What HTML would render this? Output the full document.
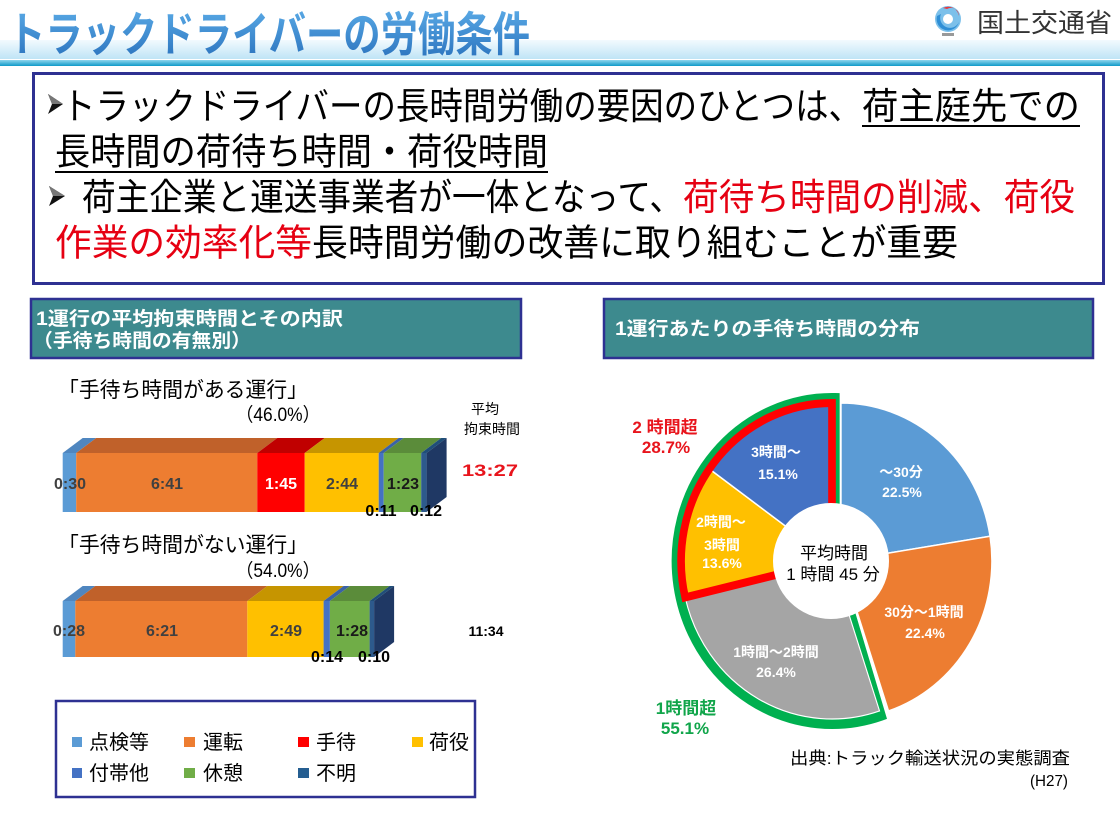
<!DOCTYPE html>
<html><head><meta charset="utf-8"><style>
html,body{margin:0;padding:0;background:#fff;}
svg{display:block;}
text{font-family:"Liberation Sans","Noto Sans CJK JP",sans-serif;}
</style></head><body>
<svg width="1120" height="840" viewBox="0 0 1120 840" xmlns="http://www.w3.org/2000/svg">
<defs>
<linearGradient id="band" x1="0" y1="0" x2="0" y2="1">
<stop offset="0" stop-color="#f2fafe"/><stop offset="1" stop-color="#bfe4f6"/></linearGradient>
<linearGradient id="stripe" x1="0" y1="0" x2="0" y2="1">
<stop offset="0" stop-color="#8fd6ee"/><stop offset="1" stop-color="#0f9ac8"/></linearGradient>
<linearGradient id="ttl" x1="0" y1="0" x2="0" y2="1">
<stop offset="0" stop-color="#5aaae6"/><stop offset="1" stop-color="#2a72bd"/></linearGradient>
</defs>
<rect width="1120" height="840" fill="#fff"/>
<!-- header band -->
<rect x="0" y="40" width="1120" height="19" fill="url(#band)"/>
<rect x="0" y="60" width="1120" height="6" fill="url(#stripe)"/>
<text x="8" y="51" font-size="47" font-weight="bold" fill="url(#ttl)" textLength="522" lengthAdjust="spacingAndGlyphs">トラックドライバーの労働条件</text>
<!-- logo -->
<g>
<circle cx="948" cy="19" r="13" fill="#7cc0ea"/>
<path d="M937,16 A11,11 0 0 0 959,22 A8,8 0 0 1 941,14 Z" fill="#2f8fd6"/>
<path d="M943,8 A11,11 0 0 1 959,16 A8,8 0 0 0 947,9 Z" fill="#e8383d"/>
<circle cx="948" cy="19" r="5" fill="#fff"/>
<rect x="942" y="33" width="12" height="3" fill="#999"/>
</g>
<text x="977" y="32" font-size="26" fill="#333" textLength="135" lengthAdjust="spacingAndGlyphs">国土交通省</text>

<!-- main box -->
<rect x="33.5" y="73.5" width="1070" height="210" fill="#fff" stroke="#2e3192" stroke-width="3"/>
<path d="M48,94 L63,104 L48,114 L52,104 Z" fill="#111"/>
<path d="M48,94 L63,104 L52,104 Z" fill="#777"/>
<text x="62" y="119" font-size="37" fill="#000" textLength="800" lengthAdjust="spacingAndGlyphs">トラックドライバーの長時間労働の要因のひとつは、</text>
<text x="862" y="119" font-size="37" fill="#000" textLength="218" lengthAdjust="spacingAndGlyphs">荷主庭先での</text>
<rect x="862" y="125" width="218" height="2" fill="#000"/>
<text x="55" y="164.5" font-size="37" fill="#000" textLength="493" lengthAdjust="spacingAndGlyphs">長時間の荷待ち時間・荷役時間</text>
<rect x="55" y="171" width="493" height="2" fill="#000"/>
<path d="M49,186 L65,196 L49,206 L53,196 Z" fill="#111"/>
<path d="M49,186 L65,196 L53,196 Z" fill="#777"/>
<text x="82" y="210" font-size="37" fill="#000" textLength="601" lengthAdjust="spacingAndGlyphs">荷主企業と運送事業者が一体となって、</text>
<text x="683" y="210" font-size="37" fill="#e60012" textLength="392" lengthAdjust="spacingAndGlyphs">荷待ち時間の削減、荷役</text>
<text x="55" y="255.5" font-size="37" fill="#e60012" textLength="257" lengthAdjust="spacingAndGlyphs">作業の効率化等</text>
<text x="312" y="255.5" font-size="37" fill="#000" textLength="646" lengthAdjust="spacingAndGlyphs">長時間労働の改善に取り組むことが重要</text>

<!-- section headers -->
<rect x="31" y="299" width="490" height="59" fill="#3d8a8e" stroke="#2e3192" stroke-width="2.5"/>
<text x="36" y="325" font-size="19" font-weight="bold" fill="#fff" textLength="307" lengthAdjust="spacingAndGlyphs">1運行の平均拘束時間とその内訳</text>
<text x="33" y="347" font-size="19" font-weight="bold" fill="#fff" textLength="218" lengthAdjust="spacingAndGlyphs">（手待ち時間の有無別）</text>
<rect x="604" y="299" width="489" height="59" fill="#3d8a8e" stroke="#2e3192" stroke-width="2.5"/>
<text x="615" y="335" font-size="19" font-weight="bold" fill="#fff" textLength="305" lengthAdjust="spacingAndGlyphs">1運行あたりの手待ち時間の分布</text>

<!-- bar chart titles -->
<text x="58" y="397" font-size="21" fill="#000" textLength="250" lengthAdjust="spacingAndGlyphs">「手待ち時間がある運行」</text>
<text x="236" y="421" font-size="19" fill="#000" textLength="84" lengthAdjust="spacingAndGlyphs">（46.0%）</text>
<text x="485" y="414" font-size="14" fill="#000" text-anchor="middle">平均</text>
<text x="492" y="434" font-size="14" fill="#000" text-anchor="middle">拘束時間</text>
<text x="462" y="476" font-size="17" font-weight="bold" fill="#e8141c" textLength="56" lengthAdjust="spacingAndGlyphs">13:27</text>

<!-- bar 1 -->
<g>
<rect x="62.7" y="453" width="13.5" height="59" fill="#5b9bd5"/>
<polygon points="62.7,453 76.2,453 96.2,438 82.7,438" fill="#4f86bf"/>
<rect x="76.2" y="453" width="181.1" height="59" fill="#ed7d31"/>
<polygon points="76.2,453 257.3,453 277.3,438 96.2,438" fill="#c0612a"/>
<rect x="257.3" y="453" width="47.4" height="59" fill="#ff0000"/>
<polygon points="257.3,453 304.7,453 324.7,438 277.3,438" fill="#c00000"/>
<rect x="304.7" y="453" width="74" height="59" fill="#ffc000"/>
<polygon points="304.7,453 378.7,453 398.7,438 324.7,438" fill="#c69500"/>
<rect x="378.7" y="453" width="5" height="59" fill="#4472c4"/>
<polygon points="378.7,453 383.7,453 403.7,438 398.7,438" fill="#3a62a8"/>
<rect x="383.7" y="453" width="37.5" height="59" fill="#70ad47"/>
<polygon points="383.7,453 421.2,453 441.2,438 403.7,438" fill="#5b8c3a"/>
<rect x="421.2" y="453" width="5.4" height="59" fill="#2d5a8c"/>
<polygon points="421.2,453 426.6,453 446.6,438 441.2,438" fill="#1f4e79"/>
<polygon points="426.6,453 446.6,438 446.6,497 426.6,512" fill="#1f3864"/>
</g>
<g font-size="16" font-weight="bold" text-anchor="middle">
<text x="70" y="489" fill="#404040">0:30</text>
<text x="167" y="489" fill="#404040">6:41</text>
<text x="281" y="489" fill="#fff">1:45</text>
<text x="342" y="489" fill="#404040">2:44</text>
<text x="403" y="489" fill="#1a1a1a">1:23</text>
<text x="381" y="516" fill="#000">0:11</text>
<text x="426" y="516" fill="#000">0:12</text>
</g>

<text x="58" y="552" font-size="21" fill="#000" textLength="250" lengthAdjust="spacingAndGlyphs">「手待ち時間がない運行」</text>
<text x="236" y="577" font-size="19" fill="#000" textLength="84" lengthAdjust="spacingAndGlyphs">（54.0%）</text>

<!-- bar 2 -->
<g>
<rect x="62.7" y="601" width="12.6" height="56" fill="#5b9bd5"/>
<polygon points="62.7,601 75.3,601 95.3,586 82.7,586" fill="#4f86bf"/>
<rect x="75.3" y="601" width="172" height="56" fill="#ed7d31"/>
<polygon points="75.3,601 247.3,601 267.3,586 95.3,586" fill="#c0612a"/>
<rect x="247.3" y="601" width="76.3" height="56" fill="#ffc000"/>
<polygon points="247.3,601 323.6,601 343.6,586 267.3,586" fill="#c69500"/>
<rect x="323.6" y="601" width="6.3" height="56" fill="#4472c4"/>
<polygon points="323.6,601 329.9,601 349.9,586 343.6,586" fill="#3a62a8"/>
<rect x="329.9" y="601" width="39.7" height="56" fill="#70ad47"/>
<polygon points="329.9,601 369.6,601 389.6,586 349.9,586" fill="#5b8c3a"/>
<rect x="369.6" y="601" width="4.5" height="56" fill="#2d5a8c"/>
<polygon points="369.6,601 374.1,601 394.1,586 389.6,586" fill="#1f4e79"/>
<polygon points="374.1,601 394.1,586 394.1,642 374.1,657" fill="#1f3864"/>
</g>
<g font-size="16" font-weight="bold" text-anchor="middle">
<text x="69" y="636" fill="#404040">0:28</text>
<text x="162" y="636" fill="#404040">6:21</text>
<text x="286" y="636" fill="#404040">2:49</text>
<text x="352" y="636" fill="#1a1a1a">1:28</text>
<text x="327" y="662" fill="#000">0:14</text>
<text x="374" y="662" fill="#000">0:10</text>
</g>
<text x="486" y="636" font-size="14" font-weight="bold" fill="#000" text-anchor="middle">11:34</text>

<!-- legend -->
<rect x="56" y="701" width="419" height="96" fill="#fff" stroke="#2e3192" stroke-width="2.5"/>
<g font-size="20" fill="#000">
<rect x="72" y="737" width="10" height="10" fill="#5b9bd5"/><text x="89" y="749">点検等</text>
<rect x="184" y="737" width="11" height="10" fill="#ed7d31"/><text x="203" y="749">運転</text>
<rect x="298" y="737" width="11" height="10" fill="#ff0000"/><text x="316" y="749">手待</text>
<rect x="412" y="737" width="11" height="10" fill="#ffc000"/><text x="429" y="749">荷役</text>
<rect x="72" y="768" width="10" height="10" fill="#4472c4"/><text x="89" y="780">付帯他</text>
<rect x="184" y="768" width="11" height="10" fill="#70ad47"/><text x="203" y="780">休憩</text>
<rect x="298" y="768" width="11" height="10" fill="#255e91"/><text x="316" y="780">不明</text>
</g>

<!-- pie -->
<g transform="translate(832,561) scale(0.955,1)">
<path d="M3,0 L3,-163 A163,163 0 1 0 51.35,154.7 Z" fill="#00b050" stroke="#00b050" stroke-width="10" stroke-linejoin="miter"/>
</g>
<g transform="translate(841,561) scale(0.955,1)" stroke="#fff" stroke-width="1.5">
<path d="M0,0 L0,-158 A158,158 0 0 1 156.06,-24.71 Z" fill="#5b9bd5"/>
<path d="M0,0 L156.06,-24.71 A158,158 0 0 1 49.77,149.96 Z" fill="#ed7d31"/>
</g>
<g transform="translate(832,561) scale(0.955,1)">
<path d="M0,0 L49.77,149.96 A158,158 0 0 1 -153.75,36.4 Z" fill="#a5a5a5" stroke="#fff" stroke-width="1.2"/>
<path d="M0,0 L-153.75,36.4 A158,158 0 0 1 -128.42,-92.08 Z" fill="#ffc000" stroke="#fff" stroke-width="1.5"/>
<path d="M0,0 L-128.42,-92.08 A158,158 0 0 1 0,-158 Z" fill="#4472c4" stroke="#fff" stroke-width="1.5"/>
<path d="M0,0 L-153.75,36.4 A158,158 0 0 1 0,-158 Z" fill="none" stroke="#ff0000" stroke-width="8" stroke-linejoin="miter"/>
</g>
<circle cx="831" cy="561" r="58" fill="#fff"/>
<g font-size="14" font-weight="bold" fill="#fff" text-anchor="middle">
<text x="776" y="457">3時間～</text>
<text x="778" y="479">15.1%</text>
<text x="901" y="477">～30分</text>
<text x="902" y="497">22.5%</text>
<text x="721" y="527">2時間～</text>
<text x="722" y="550">3時間</text>
<text x="722" y="568">13.6%</text>
<text x="924" y="617">30分～1時間</text>
<text x="925" y="638">22.4%</text>
<text x="776" y="657">1時間～2時間</text>
<text x="776" y="677">26.4%</text>
</g>
<g font-size="17" fill="#000" text-anchor="middle">
<text x="834" y="559">平均時間</text>
<text x="833" y="580">1 時間 45 分</text>
</g>
<g font-size="17" font-weight="bold" text-anchor="middle">
<text x="665" y="433" fill="#e8141c">2 時間超</text>
<text x="666" y="453" fill="#e8141c">28.7%</text>
<text x="686" y="714" fill="#10a54a">1時間超</text>
<text x="685" y="734" fill="#10a54a">55.1%</text>
</g>

<!-- source -->
<text x="790" y="764" font-size="17" fill="#000" textLength="280" lengthAdjust="spacingAndGlyphs">出典:トラック輸送状況の実態調査</text>
<text x="1030" y="786" font-size="16" fill="#000" textLength="38" lengthAdjust="spacingAndGlyphs">(H27)</text>
</svg>
</body></html>
